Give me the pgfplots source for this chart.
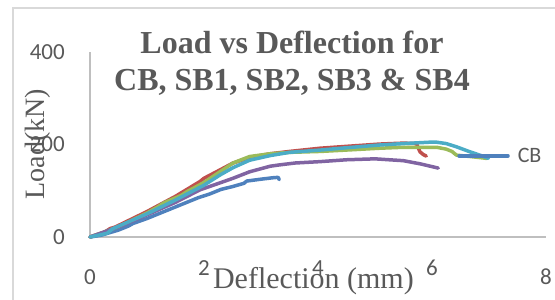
\documentclass[border=0pt]{standalone}
\usepackage{pgfplots}
\pgfplotsset{compat=1.18}
\usepackage{fontspec}
\setmainfont{Liberation Serif}
\newfontfamily\carlito{Carlito}
\definecolor{txtgrey}{HTML}{595959}
\definecolor{axgrey}{HTML}{BFBFBF}
\definecolor{bordergrey}{HTML}{D9D9D9}
\definecolor{xblue}{HTML}{4F81BD}
\definecolor{xred}{HTML}{C0504D}
\definecolor{xgreen}{HTML}{9BBB59}
\definecolor{xpurple}{HTML}{8064A2}
\definecolor{xteal}{HTML}{4BACC6}
\begin{document}
\begin{tikzpicture}
\useasboundingbox (-90pt,-63pt) rectangle (465pt,237pt);
\clip (-90pt,-63pt) rectangle (465pt,237pt);
\draw[bordergrey, line width=1.5pt] (-77pt,229pt) rectangle (600pt,-200pt);
\begin{axis}[
  at={(0pt,0pt)}, anchor=south west,
  scale only axis, width=456pt, height=185pt,
  xmin=0, xmax=8, ymin=0, ymax=400,
  axis lines*=left,
  axis line style={axgrey, line width=1.5pt},
  major tick length=0pt,
  xtick={0,2,4,6,8},
  xticklabels={0,\raisebox{9pt}{2},\raisebox{9pt}{4},\raisebox{9pt}{6},8},
  ytick={0,200,400},
  /pgf/number format/assume math mode=true,
  ticklabel style={font=\carlito\fontsize{23}{26}\selectfont, text=txtgrey, inner sep=0pt},
  xticklabel style={anchor=base, yshift=-47pt},
  yticklabel style={anchor=east, xshift=-25pt},
  title={Load vs Deflection for\\CB, SB1, SB2, SB3 \& SB4},
  title style={at={(axis description cs:0.443,1.081)}, anchor=north, align=center,
    font=\fontsize{32}{37}\selectfont\bfseries, text=txtgrey, inner sep=0pt},
  xlabel={Deflection (mm)},
  xlabel style={at={(axis description cs:0.49,-0.281)}, anchor=base,
    font=\fontsize{30}{34}\selectfont, text=txtgrey, inner sep=0pt},
  ylabel={Load(kN)},
  ylabel style={at={(axis description cs:-0.0987,0.503)}, anchor=base, rotate=0,
    font=\fontsize{28}{32}\selectfont, text=txtgrey, inner sep=0pt},
  every axis plot/.append style={line width=3.5pt, line cap=round, line join=round},
  clip=false,
  legend style={at={(axis description cs:0.805,0.438)}, anchor=west, draw=none, fill=none,
    inner sep=0pt, font=\carlito\fontsize{22}{25}\selectfont, text=txtgrey,
    nodes={inner sep=0pt}},
  legend image code/.code={\draw[line width=3.5pt, line cap=round] (0pt,0pt) -- (49pt,0pt);},
]
% CB
\addplot[xblue] coordinates {
(0,0) (0.2,4) (0.5,15) (0.68,24) (0.75,29) (1.0,40) (1.5,65) (1.9,85) (2.1,93)
(2.3,103) (2.5,109) (2.7,116) (2.75,121) (3.0,125) (3.2,128) (3.3,129) (3.32,124)
};
\addlegendentry{\hspace{8pt}CB}
% SB1
\addplot[xred, forget plot] coordinates {
(0,0) (0.25,10) (0.35,18) (0.45,22) (1.0,55) (1.5,88) (1.93,120) (2.0,127)
(2.28,145) (2.51,160) (2.8,172) (3.16,180) (3.5,185) (4.04,192) (4.5,196)
(5.09,201) (5.5,203) (5.73,202) (5.75,195) (5.79,184) (5.85,178) (5.9,175)
};
% SB2
\addplot[xgreen, forget plot] coordinates {
(0,0) (0.5,22) (1.0,52) (1.2,66) (1.3,74) (1.6,90) (1.7,98) (2.0,118)
(2.28,141) (2.51,160) (2.8,174) (3.16,180) (3.5,183) (4.04,185) (4.5,188)
(5.09,192) (5.5,194) (6.08,194) (6.25,190) (6.35,185) (6.43,177) (6.67,174) (6.96,170)
};
% SB3
\addplot[xpurple, forget plot] coordinates {
(0,0) (0.5,22) (1.0,48) (1.5,75) (1.93,102) (2.28,117) (2.51,127) (2.8,141)
(3.16,153) (3.33,156) (3.6,160) (4.04,163) (4.5,167) (5.0,169) (5.5,165)
(5.8,158) (6.11,149)
};
% SB4
\addplot[xteal, forget plot] coordinates {
(0,0) (0.3,8) (0.4,18) (1.0,50) (1.5,80) (2.0,112) (2.28,134) (2.51,150)
(2.8,166) (3.16,176) (3.5,183) (4.04,188) (4.5,193) (5.09,199) (5.5,202)
(5.96,205) (6.08,205) (6.25,202) (6.43,195) (6.67,184) (6.84,177) (6.99,170)
};
\end{axis}
\end{tikzpicture}
\end{document}
